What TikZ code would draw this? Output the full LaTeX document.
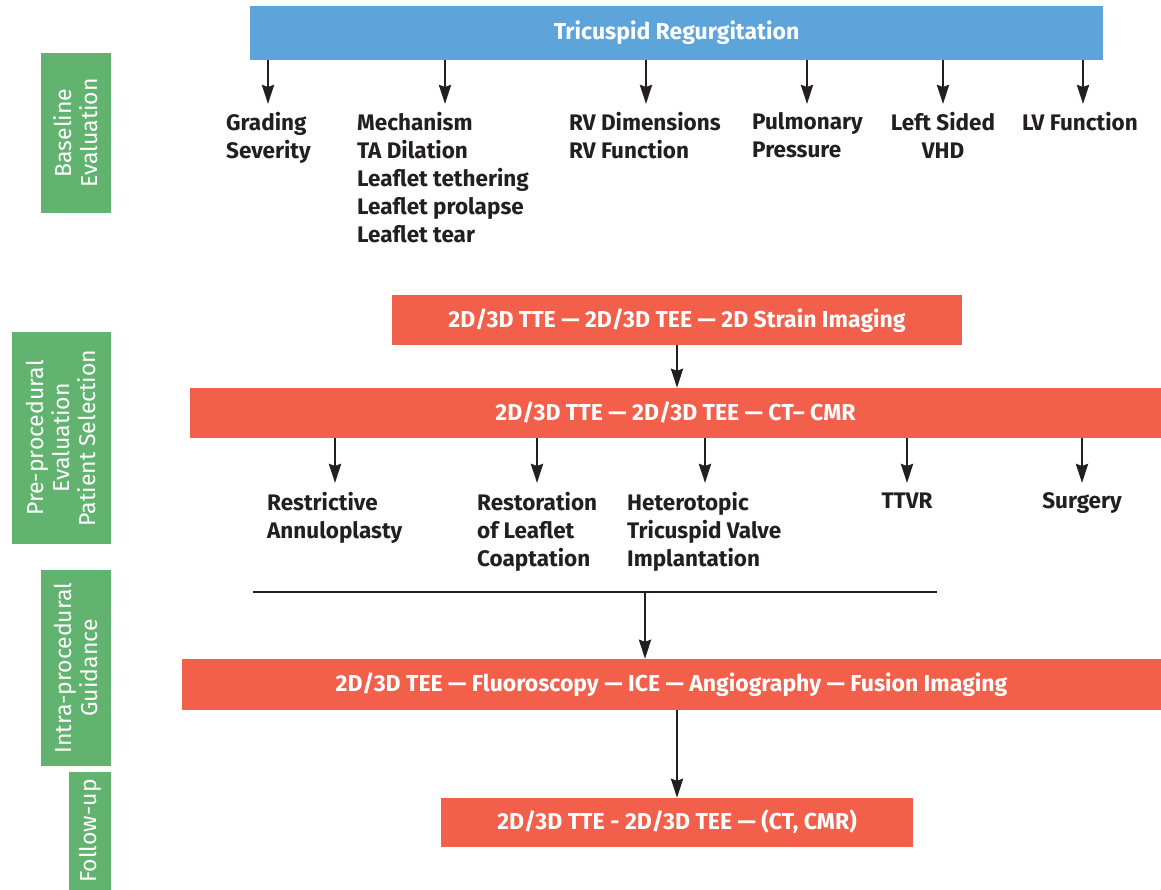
\documentclass[tikz,border=0pt]{standalone}
\usepackage{fontspec}
\setmainfont{Fira Sans}
\usetikzlibrary{arrows.meta,calc}
\definecolor{trblue}{HTML}{5CA4DA}
\definecolor{trred}{HTML}{F25F4B}
\definecolor{trgreen}{HTML}{63B370}
\definecolor{txt}{HTML}{231F20}
\begin{document}
\begin{tikzpicture}[x=1pt,y=-1pt,
  box/.style={rectangle, inner sep=0pt, text=white, text height=15pt, text depth=1pt, font=\bfseries\fontsize{23}{26}\selectfont},
  bluebox/.style={box, fill=trblue},
  redbox/.style={box, fill=trred},
  greenbox/.style={rectangle, fill=trgreen, inner sep=0pt},
  sidetext/.style={text=white, font=\fontsize{23}{26}\selectfont, rotate=90, align=center, inner sep=0pt},
  lbl/.style={anchor=north west, inner sep=0pt, align=left, text=txt, font=\bfseries\fontsize{22.5}{28}\selectfont},
  clbl/.style={lbl, anchor=north, align=center},
  arr/.style={draw=txt, line width=2.8pt, -{Stealth[length=19pt,width=12pt,inset=2pt]}},
  hline/.style={draw=txt, line width=2.8pt}
]
\useasboundingbox (0,0) rectangle (1161,890);

% side labels
\node[greenbox, minimum width=70, minimum height=160] (g1) at (76,133) {};
\node[sidetext] at (g1) {Baseline\\Evaluation};
\node[greenbox, minimum width=99, minimum height=212] (g2) at (61.5,438) {};
\node[sidetext] at (g2) {Pre-procedural\\Evaluation\\Patient Selection};
\node[greenbox, minimum width=70, minimum height=196] (g3) at (76,668) {};
\node[sidetext] at (g3) {Intra-procedural\\Guidance};
\node[greenbox, minimum width=42, minimum height=118] (g4) at (90,831) {};
\node[sidetext] at (g4) {Follow-up};

% top box
\node[bluebox, minimum width=853, minimum height=54] (tr) at (676.5,33) {Tricuspid Regurgitation};

\node[lbl] (gs) at (226,112.5) {Grading\\Severity};
\node[lbl] (me) at (357,112.5) {Mechanism\\TA Dilation\\Leaflet tethering\\Leaflet prolapse\\Leaflet tear};
\node[lbl] (rv) at (569,112.5) {RV Dimensions\\RV Function};
\node[lbl] (pp) at (752,112.5) {Pulmonary\\Pressure};
\node[clbl] (ls) at (943,112.5) {Left Sided\\VHD};
\node[lbl] (lv) at (1022,112.5) {LV Function};

\coordinate (a1) at (268,104);
\coordinate (a2) at (445,104);
\coordinate (a3) at (646,104);
\coordinate (a4) at (807,104);
\coordinate (a5) at (943,104);
\coordinate (a6) at (1083,104);
\foreach \a in {a1,a2,a3,a4,a5,a6}
  \draw[arr] (tr.south -| \a) -- (\a);

% pre-procedural
\node[redbox, minimum width=570, minimum height=50] (r1) at (677,320) {2D/3D TTE — 2D/3D TEE — 2D Strain Imaging};
\node[redbox, minimum width=971, minimum height=50] (r2) at (675.5,413) {2D/3D TTE — 2D/3D TEE — CT– CMR};
\draw[arr] (r1.south) -- (r1.south |- r2.north);

\node[lbl] (ra) at (267,492.5) {Restrictive\\Annuloplasty};
\node[lbl] (rl) at (477,492.5) {Restoration\\of Leaflet\\Coaptation};
\node[lbl] (ht) at (627,492.5) {Heterotopic\\Tricuspid Valve\\Implantation};
\node[clbl] (tt) at (907,492.5) {TTVR};
\node[clbl] (su) at (1082,492.5) {Surgery};

\coordinate (b1) at (335,483);
\coordinate (b2) at (537,483);
\coordinate (b3) at (705,483);
\coordinate (b4) at (907,483);
\coordinate (b5) at (1082,483);
\foreach \b in {b1,b2,b3,b4,b5}
  \draw[arr] (r2.south -| \b) -- (\b);

% intra-procedural
\coordinate (l1) at (253,592);
\coordinate (l2) at (937,592);
\coordinate (lm) at (645,592);
\draw[hline] (l1) -- (l2);
\node[redbox, minimum width=979, minimum height=51] (r3) at (671.5,684.5) {2D/3D TEE — Fluoroscopy — ICE — Angiography — Fusion Imaging};
\draw[arr] (lm) -- (lm |- r3.north);

% follow-up
\node[redbox, minimum width=472, minimum height=49] (r4) at (677,822.5) {2D/3D TTE - 2D/3D TEE — (CT, CMR)};
\draw[arr] (r3.south -| r4) -- (r4.north);
\end{tikzpicture}
\end{document}
